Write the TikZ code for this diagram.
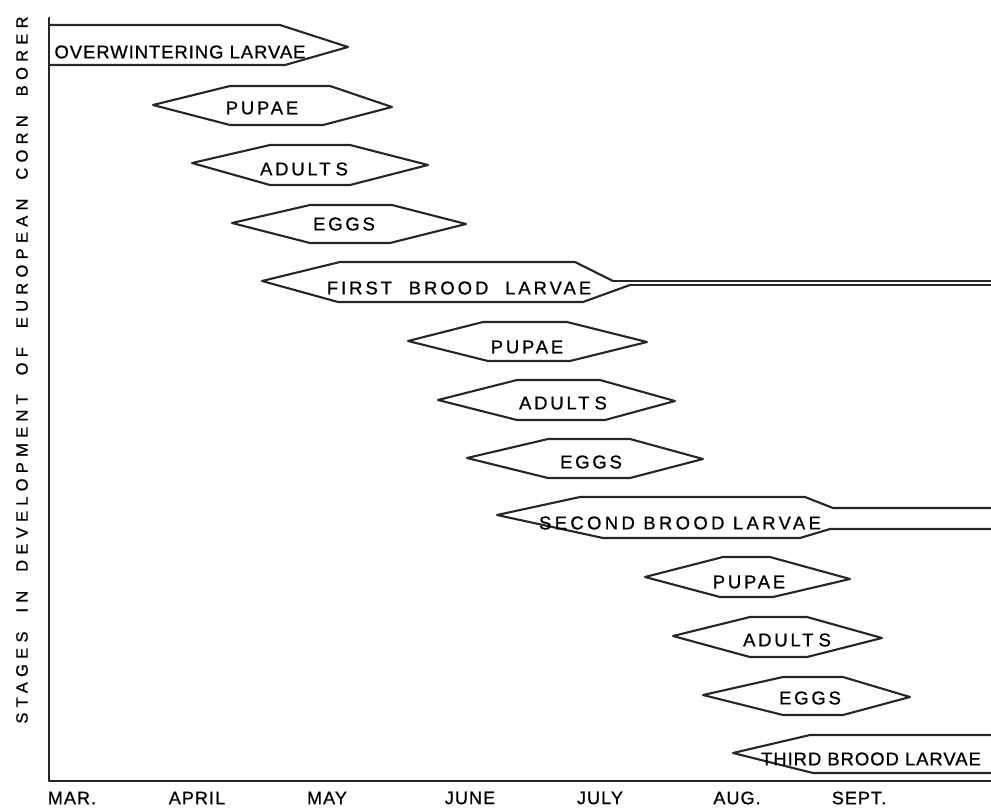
\documentclass[tikz,border=0pt]{standalone}
\usepackage{fontspec}
\newfontfamily\labfont[FakeBold=0.8]{Liberation Sans}
\begin{document}
\begin{tikzpicture}[x=1pt,y=-1pt,
  bar/.style={draw=black!85, line width=2.1pt, line join=round, line cap=round},
  tail/.style={draw=black!85, line width=1.5pt, line cap=round},
  lab/.style={inner sep=0pt, font={\labfont\fontsize{18.5}{20}\selectfont\addfontfeatures{LetterSpace=#1}}},
  lab/.default=12,
  month/.style={inner sep=0pt, font={\labfont\fontsize{18}{20}\selectfont\addfontfeatures{LetterSpace=6}}}]
\useasboundingbox (0,0) rectangle (991,808);

% axes
\draw[bar] (49,18) -- (49,781) -- (991,781);

% vertical axis title
\node[inner sep=0pt, rotate=90, font={\labfont\fontsize{16.5}{18}\selectfont\addfontfeatures{LetterSpace=32}}]
  (title) at (22,370) {STAGES\hspace{1.15em}IN\hspace{1.15em}DEVELOPMENT\hspace{1.15em}OF\hspace{1.15em}EUROPEAN\hspace{1.15em}CORN\hspace{1.15em}BORER};

% overwintering larvae
\draw[bar] (49,25) -- (280,25) -- (348,47) -- (285,65) -- (49,65);
\node[lab=5] (ow) at (180,52) {OVERWINTERING LARVAE};

% first generation
\draw[bar] (153,105) -- (230,86) -- (330,86) -- (392,107) -- (323,125) -- (230,125) -- cycle;
\node[lab=15] (p1) at (262,108) {PUPAE};
\draw[bar] (192,163) -- (270,145) -- (350,145) -- (428,165) -- (350,185) -- (270,185) -- cycle;
\node[lab=15] (a1) at (304,169) {ADUL\kern1.5pt T\kern5pt S};
\draw[bar] (232,223) -- (310,205) -- (392,205) -- (466,224) -- (390,243) -- (310,243) -- cycle;
\node[lab=15] (e1) at (344,224) {EGGS};

% first brood larvae
\draw[bar] (613,281) -- (575,262) -- (340,262) -- (262,281) -- (338,302) -- (583,302) -- (630,285);
\draw[tail] (613,281) -- (991,281);
\draw[tail] (630,285) -- (991,285);
\node[lab=16] (fb) at (459,288) {FIRST\hspace{0.9em}BROOD\hspace{0.9em}LARVAE};

% second generation
\draw[bar] (408,341) -- (483,322) -- (567,322) -- (647,342) -- (570,361) -- (488,361) -- cycle;
\node[lab=15] (p2) at (527,347) {PUPAE};
\draw[bar] (438,400) -- (517,380) -- (600,380) -- (675,401) -- (605,420) -- (517,420) -- cycle;
\node[lab=15] (a2) at (563,403) {ADUL\kern1.5pt T\kern5pt S};
\draw[bar] (467,458) -- (548,439) -- (630,439) -- (703,459) -- (630,478) -- (548,478) -- cycle;
\node[lab=15] (e2) at (591,462) {EGGS};

% second brood larvae
\draw[bar] (991,508) -- (833,508) -- (805,497) -- (580,497) -- (497,515) -- (603,538) -- (800,538) -- (830,529) -- (991,529);
\node[lab=18] (sb) at (680,523) {SECOND BROOD LARVAE};

% third generation
\draw[bar] (645,577) -- (723,557) -- (770,557) -- (850,579) -- (773,597) -- (720,597) -- cycle;
\node[lab=15] (p3) at (749,582) {PUPAE};
\draw[bar] (673,636) -- (750,617) -- (807,617) -- (882,638) -- (807,657) -- (750,657) -- cycle;
\node[lab=15] (a3) at (787,640) {ADUL\kern1.5pt T\kern5pt S};
\draw[bar] (703,695) -- (783,677) -- (843,677) -- (910,697) -- (843,715) -- (783,715) -- cycle;
\node[lab=15] (e3) at (810,698) {EGGS};

% third brood larvae
\draw[bar] (991,735) -- (810,735) -- (733,753) -- (813,773) -- (991,773);
\node[lab=5] (tb) at (871,759) {THIRD BROOD LARVAE};

% months
\node[month] (mar) at (72,798) {MAR.};
\node[month] (apr) at (197,798) {APRIL};
\node[month] (may) at (327,798) {MAY};
\node[month] (jun) at (470,798) {JUNE};
\node[month] (jul) at (600,798) {JULY};
\node[month] (aug) at (737,798) {AUG.};
\node[month] (sep) at (859,798) {SEPT.};
\end{tikzpicture}
\end{document}
